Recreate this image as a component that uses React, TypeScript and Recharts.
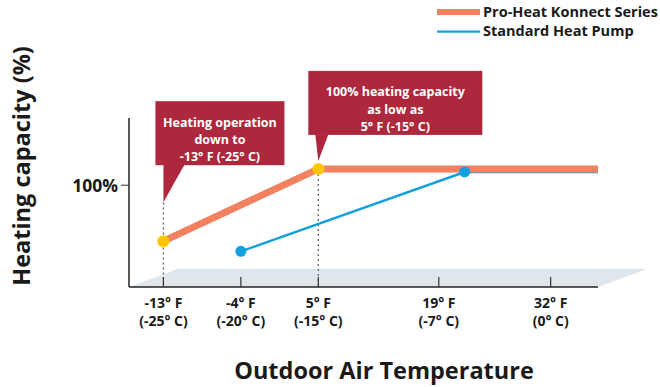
import React from 'react';
import {
  LineChart,
  Line,
  XAxis,
  YAxis,
  ReferenceArea,
  ReferenceLine,
  ReferenceDot,
  Customized,
} from 'recharts';

const FONT = "'Open Sans', Lato, sans-serif";

// outdoor temperature (°F) ticks and their Celsius labels
const tempTicksF = [-13, -4, 5, 19, 32];
const tempLabelsC = ['(-25° C)', '(-20° C)', '(-15° C)', '(-7° C)', '(0° C)'];

// Pro-Heat Konnect Series
const proTemps = [-13, 5, 37.5];
const proCapacity = [45, 116, 116];

// Standard Heat Pump
const stdTemps = [-4, 22, 37.5];
const stdCapacity = [35, 113, 113];

const seriesNames = ['Pro-Heat Konnect Series', 'Standard Heat Pump'];

const calloutLow = ['Heating operation', 'down to', '-13° F (-25° C)'];
const calloutFull = ['100% heating capacity', 'as low as', '5° F (-15° C)'];

const proData = proTemps.map((t, i) => ({ temp: t, cap: proCapacity[i] }));
const stdData = stdTemps.map((t, i) => ({ temp: t, cap: stdCapacity[i] }));

const ORANGE = '#f2825f';
const BLUE = '#129fde';
const YELLOW = '#ffc600';
const RED = '#ad283c';
const FLOOR = '#dfe7ec';
const INK = '#1a1a1a';

const XTick = (props: any) => {
  const { x, y, payload, index } = props;
  return (
    <g>
      <line x1={x} x2={x} y1={y} y2={y - 10} stroke="#333" strokeWidth={1.2} />
      <text x={x} y={y + 21} textAnchor="middle" fontFamily={FONT} fontWeight={700} fontSize={14} fill={INK}>
        {`${payload.value}° F`}
      </text>
      <text x={x} y={y + 39} textAnchor="middle" fontFamily={FONT} fontWeight={700} fontSize={14} fill={INK}>
        {tempLabelsC[index]}
      </text>
    </g>
  );
};

const YTick = (props: any) => {
  const { x, y, payload } = props;
  return (
    <g>
      <line x1={x - 8} x2={x} y1={y} y2={y} stroke="#333" strokeWidth={1} />
      <text x={x - 11} y={y + 6.5} textAnchor="end" fontFamily={FONT} fontWeight={700} fontSize={17.5} fill={INK}>
        {`${payload.value}%`}
      </text>
    </g>
  );
};

// parallelogram "floor" under the plot
const Floor = (props: any) => {
  const { x, y, width, height } = props;
  const shift = 49;
  const pts = [
    [x, y + height],
    [x + shift, y],
    [x + width + shift, y],
    [x + width, y + height],
  ]
    .map((p) => p.join(','))
    .join(' ');
  return <polygon points={pts} fill={FLOOR} />;
};

// callout box with pointer, drawn relative to anchor point
const callout = (lines: string[], box: { dx: number; top: number; w: number; h: number }, tip: { x0: number; x1: number; dy: number }) =>
  (props: any) => {
    const { cx, cy } = props;
    const left = cx + box.dx;
    const top = cy + box.top;
    const bottom = top + box.h;
    const lh = 17.2;
    return (
      <g>
        <rect x={left} y={top} width={box.w} height={box.h} fill={RED} />
        <polygon
          points={`${cx + tip.x0},${bottom - 0.5} ${cx + tip.x1},${bottom - 0.5} ${cx},${cy + tip.dy}`}
          fill={RED}
        />
        {lines.map((l, i) => (
          <text
            key={i}
            x={left + box.w / 2}
            y={top + 25.5 + i * lh}
            textAnchor="middle"
            fontFamily={FONT}
            fontWeight={700}
            fontSize={12.5}
            fill="#fff"
          >
            {l}
          </text>
        ))}
      </g>
    );
  };

const LowCallout = callout(calloutLow, { dx: -8, top: -140, w: 129, h: 64 }, { x0: 0, x1: 21, dy: -39 });
const FullCallout = callout(calloutFull, { dx: -10, top: -98, w: 174, h: 64 }, { x0: -3, x1: 10, dy: -8 });

const Titles = () => (
  <g fontFamily={FONT} fontWeight={700} fill={INK}>
    <text x={384} y={379} textAnchor="middle" fontSize={23.5}>
      Outdoor Air Temperature
    </text>
    <text x={30} y={166} textAnchor="middle" fontSize={23.5} transform="rotate(-90 30 166)">
      Heating capacity (%)
    </text>
    <rect x={437} y={9} width={43} height={6} fill={ORANGE} />
    <text x={483} y={17} fontSize={14.5}>
      {seriesNames[0]}
    </text>
    <rect x={437} y={30.5} width={43} height={2.2} fill={BLUE} />
    <text x={483} y={36} fontSize={14.5}>
      {seriesNames[1]}
    </text>
  </g>
);

export default function App() {
  return (
    <div style={{ position: 'absolute', left: 0, top: 0, background: '#fff' }}>
      <LineChart width={660} height={387} margin={{ top: 118, right: 62, bottom: 40, left: 0 }}>
        <XAxis
          dataKey="temp"
          type="number"
          domain={[-17, 37.5]}
          ticks={tempTicksF}
          allowDataOverflow
          height={60}
          tickSize={0}
          tickMargin={0}
          tickLine={false}
          axisLine={{ stroke: '#222', strokeWidth: 1.5 }}
          tick={<XTick />}
          interval={0}
        />
        <YAxis
          type="number"
          domain={[0, 166]}
          ticks={[100]}
          width={129}
          tickSize={0}
          tickMargin={0}
          tickLine={false}
          axisLine={{ stroke: '#222', strokeWidth: 1.5 }}
          tick={<YTick />}
        />
        <ReferenceArea x1={-17} x2={37.5} y1={0} y2={17.6} shape={<Floor />} ifOverflow="visible" />
        <ReferenceLine
          segment={[{ x: -13, y: 83 }, { x: -13, y: 0 }]}
          stroke="#666"
          strokeDasharray="2 3"
          strokeWidth={1.3}
        />
        <ReferenceLine
          segment={[{ x: 5, y: 116 }, { x: 5, y: 0 }]}
          stroke="#666"
          strokeDasharray="2 3"
          strokeWidth={1.3}
        />
        <Line
          data={stdData}
          dataKey="cap"
          name={seriesNames[1]}
          stroke={BLUE}
          strokeWidth={2.5}
          isAnimationActive={false}
          dot={(p: any) =>
            p.index < 2 ? <circle key={p.index} cx={p.cx} cy={p.cy} r={5.5} fill={BLUE} /> : <g key={p.index} />
          }
        />
        <Line
          data={proData}
          dataKey="cap"
          name={seriesNames[0]}
          stroke={ORANGE}
          strokeWidth={7}
          isAnimationActive={false}
          dot={(p: any) =>
            p.index < 2 ? <circle key={p.index} cx={p.cx} cy={p.cy} r={6} fill={YELLOW} /> : <g key={p.index} />
          }
        />
        <ReferenceDot x={-13} y={45} r={0} shape={LowCallout} ifOverflow="visible" />
        <ReferenceDot x={5} y={116} r={0} shape={FullCallout} ifOverflow="visible" />
        <Customized component={Titles} />
      </LineChart>
    </div>
  );
}
